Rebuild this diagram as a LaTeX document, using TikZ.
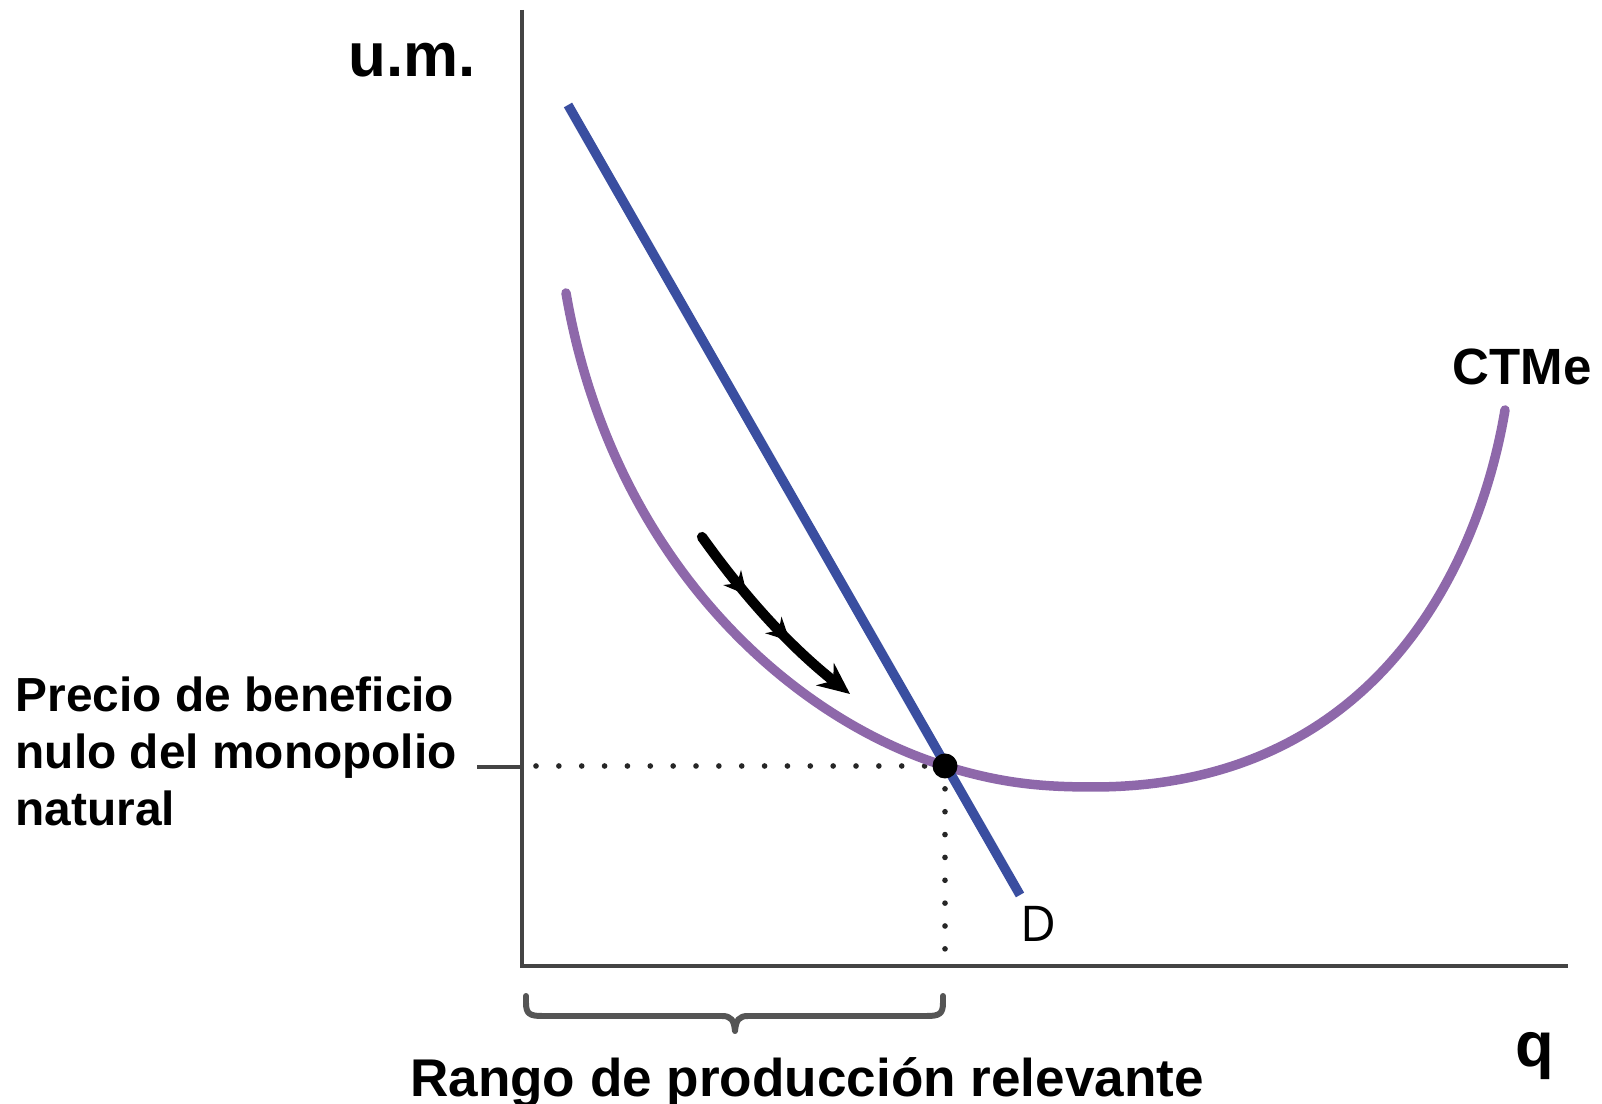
\documentclass[tikz,border=0pt]{standalone}
\usepackage{fontspec}
\setmainfont{Liberation Sans}
\newfontfamily\dfont{Open Sans}
\usetikzlibrary{arrows.meta,decorations.markings}
\definecolor{dblue}{RGB}{58,78,160}
\definecolor{cpurple}{RGB}{142,104,170}
\definecolor{axgray}{RGB}{68,68,68}
\definecolor{brgray}{RGB}{85,85,85}
\tikzset{
  axisline/.style={draw=axgray,line width=0.9pt},
  demand/.style={draw=dblue,line width=2.7pt},
  costcurve/.style={draw=cpurple,line width=2.7pt,line cap=round},
  dotline/.style={draw=black!85,line width=1.6pt,line cap=round,dash pattern=on 0pt off 6.5pt},
  bracestyle/.style={draw=brgray,line width=1.7pt,line cap=round,line join=round},
  lbl/.style={inner sep=0pt,anchor=base west},
  movearrow/.style={draw=black,line width=2.9pt,line cap=round,
    -{Stealth[length=9pt,width=8pt]},
    postaction={decorate},
    decoration={markings,
      mark=at position 0.34 with {\arrow{Stealth[length=6.5pt,width=6.5pt]}},
      mark=at position 0.63 with {\arrow{Stealth[length=6.5pt,width=6.5pt]}}}}
}
\begin{document}
\begin{tikzpicture}[x=0.01cm,y=-0.01cm]
\useasboundingbox (0,0) rectangle (1602,1104);
% axes
\coordinate (ytop) at (522,10);
\coordinate (orig) at (522,966);
\coordinate (xend) at (1568,966);
\draw[axisline] (ytop) -- (orig) -- (xend);
% tick
\coordinate (tickL) at (477,767);
\coordinate (tickR) at (522,767);
\draw[axisline] (tickL) -- (tickR);
% equilibrium point
\coordinate (eq) at (945,766);
\coordinate (hstart) at (536,766);
\coordinate (vend) at (945,962);
\draw[dotline] (hstart) -- (eq);
\draw[dotline] (eq) -- (vend);
% average cost curve
\coordinate (cA) at (566,293);
\coordinate (cMin) at (1093,787);
\coordinate (cB) at (1505,410);
\draw[costcurve] (cA) .. controls (612,560) and (790,718) .. (eq)
  .. controls (1000,783) and (1040,787) .. (cMin)
  .. controls (1380,787) and (1480,560) .. (cB);
% demand
\coordinate (dA) at (568,105);
\coordinate (dB) at (1020,895);
\draw[demand] (dA) -- (dB);
\fill[black] (eq) circle[radius=12.5];
% movement arrow
\coordinate (arA) at (702,537);
\coordinate (arB) at (850,694);
\draw[movearrow] (arA) .. controls (752,607) and (797,652) .. (arB);
% brace
\coordinate (brL) at (526,996);
\coordinate (brTip) at (735,1031);
\coordinate (brR) at (943,996);
\draw[bracestyle] (brL) -- (526,1003) .. controls (526,1014) and (530,1016) .. (542,1016)
  -- (722,1016) .. controls (731,1016) and (734,1020) .. (brTip)
  .. controls (736,1020) and (739,1016) .. (748,1016)
  -- (927,1016) .. controls (939,1016) and (943,1014) .. (943,1003) -- (brR);
% labels
\node[lbl,font=\bfseries\fontsize{17.6}{20}\selectfont] (um) at (348,77) {u.m.};
\node[lbl,font=\bfseries\fontsize{14.5}{17}\selectfont] (ctme) at (1452,385) {CTMe};
\node[lbl,font=\bfseries\fontsize{13.6}{16}\selectfont] (p1) at (15,712) {Precio de beneficio};
\node[lbl,font=\bfseries\fontsize{13.6}{16}\selectfont] (p2) at (15,769) {nulo del monopolio};
\node[lbl,font=\bfseries\fontsize{13.6}{16}\selectfont] (p3) at (15,826) {natural};
\node[lbl,font=\dfont\fontsize{14}{16}\selectfont] (dl) at (1020,942) {D};
\node[lbl,font=\bfseries\fontsize{18}{20}\selectfont] (ql) at (1515,1067) {q};
\node[inner sep=0pt,anchor=base,font=\bfseries\fontsize{15.1}{17}\selectfont] (rango) at (807,1097) {Rango de producción relevante};
\end{tikzpicture}
\end{document}
